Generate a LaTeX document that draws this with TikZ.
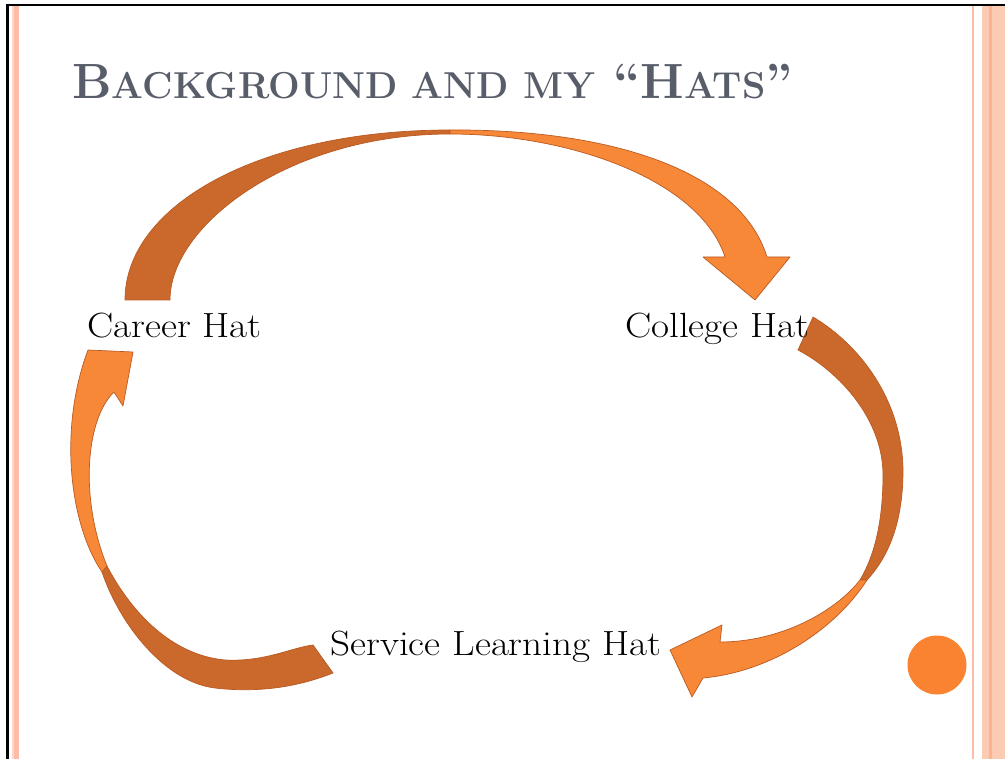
\documentclass[tikz,border=0pt]{standalone}
\usepackage{fontspec}
\definecolor{arrowlight}{RGB}{247,136,56}
\definecolor{arrowdark}{RGB}{203,104,44}
\definecolor{arrowline}{RGB}{186,90,34}
\definecolor{titlegray}{RGB}{88,93,106}
\definecolor{stripesalmon}{RGB}{252,188,168}
\definecolor{stripepale}{RGB}{255,214,204}
\definecolor{stripepeach}{RGB}{252,203,180}
\definecolor{dotcolor}{RGB}{250,131,50}

\begin{document}
\begin{tikzpicture}[x=1pt,y=-1pt]
	\tikzstyle{darkface} = [fill=arrowdark, draw=arrowline, line width=0.7pt, line join=round]
	\tikzstyle{lightface} = [fill=arrowlight, draw=arrowline, line width=0.7pt, line join=round]
	\tikzstyle{hat} = [anchor=base west, inner sep=0pt, font=\fontsize{35}{35}\selectfont]
	\newcommand{\smallcap}[1]{{\fontsize{37.5}{37.5}\selectfont #1}}
	\newcommand{\widetext}[1]{\scalebox{1.12}[1]{#1}}

	\useasboundingbox (0,0) rectangle (1005,759);
	\fill[white] (0,0) rectangle (1005,759);

	% slide frame
	\fill[stripepale] (11.5,4) rectangle (13.5,759);
	\fill[stripesalmon] (14,4) rectangle (19,759);
	\fill[stripesalmon] (971.5,4) rectangle (974,759);
	\fill[stripepeach] (982,4) rectangle (1005,759);
	\fill[stripesalmon!85!orange] (989,4) rectangle (992,759);
	\draw[line width=2.5pt] (7.5,759) -- (7.5,5) -- (1005,5);

	\node[anchor=base west, inner sep=0pt, text=titlegray, font=\fontsize{49.5}{49.5}\selectfont\bfseries] (title) at (72,99)
		{B\smallcap{ACKGROUND AND MY} ``H\smallcap{ATS}''};

	% career -> college
	\draw[darkface] (125,300) .. controls (125,205) and (260,130) .. (450,130)
		-- (450,134) .. controls (290,134) and (170,225) .. (170,300) -- cycle;
	\draw[lightface] (450,130) .. controls (610,129) and (740,170) .. (767,257)
		-- (790,257) -- (755,300) -- (703,257) -- (725,257)
		.. controls (700,180) and (570,134) .. (450,134) -- cycle;

	% college -> service learning
	\draw[darkface] (813,317) .. controls (860,345) and (902,400) .. (903,470)
		.. controls (903,520) and (890,555) .. (867,580)
		-- (860,580) .. controls (875,555) and (883,520) .. (883,475)
		.. controls (883,420) and (840,372) .. (798,350) -- cycle;
	\draw[lightface] (867,580) .. controls (835,630) and (770,672) .. (703,678)
		-- (692,697) -- (670,650) -- (722,625) -- (720,642)
		.. controls (780,642) and (835,612) .. (860,580) -- cycle;

	% service learning -> career
	\draw[darkface] (333,673) .. controls (290,690) and (250,692) .. (215,688)
		.. controls (165,682) and (120,625) .. (102,572)
		-- (107,566) .. controls (130,610) and (170,655) .. (225,660)
		.. controls (265,662) and (290,648) .. (313,645) -- cycle;
	\draw[lightface] (102,572) .. controls (70,525) and (58,430) .. (88,350)
		-- (133,352) -- (123,406) -- (114,392)
		.. controls (85,420) and (80,500) .. (107,566) -- cycle;

	\node[hat] (career) at (87,338) {\widetext{Career Hat}};
	\node[hat] (college) at (625,338) {\widetext{College Hat}};
	\node[hat] (service) at (330,655) {\widetext{Service Learning Hat}};

	\fill[dotcolor] (937,665) circle (29.5);
\end{tikzpicture}
\end{document}
